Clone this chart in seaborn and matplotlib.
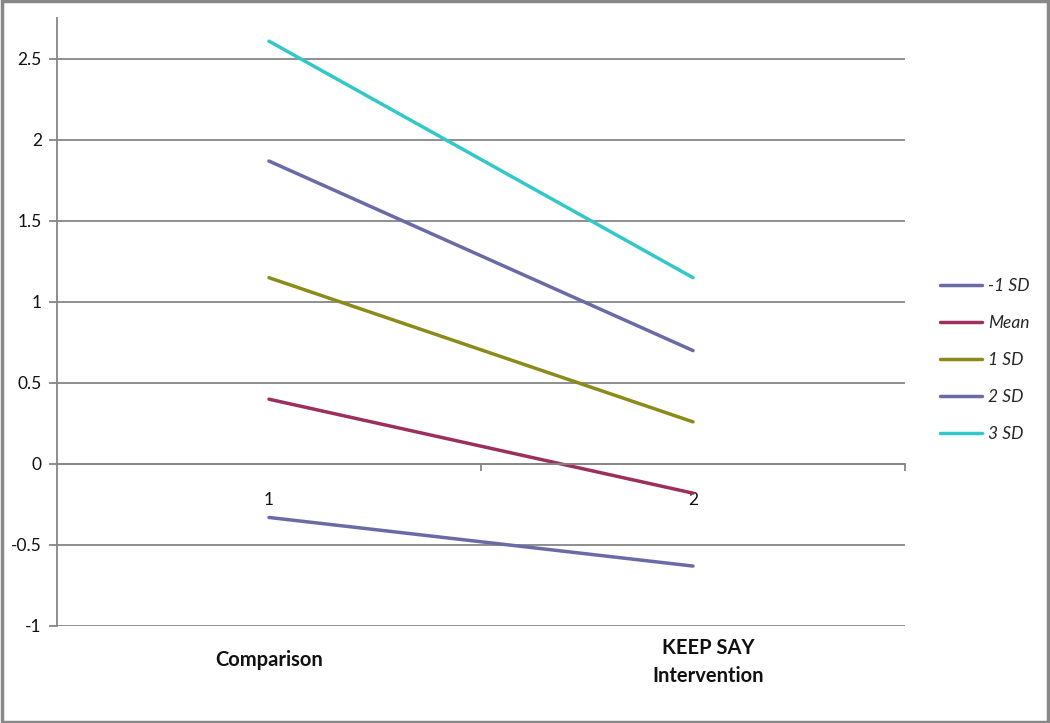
import matplotlib
matplotlib.use("Agg")
import matplotlib.pyplot as plt
import matplotlib.transforms as mtransforms
from matplotlib.patches import Rectangle
import seaborn as sns
import pandas as pd

# ---- data ----
groups = ["1", "2"]
group_names = ["Comparison", "KEEP SAY\nIntervention"]
series = ["-1 SD", "Mean", "1 SD", "2 SD", "3 SD"]
minus1_sd = [-0.33, -0.63]
mean_vals = [0.40, -0.18]
sd1_vals = [1.15, 0.26]
sd2_vals = [1.87, 0.70]
sd3_vals = [2.61, 1.15]
y_ticks = [-1, -0.5, 0, 0.5, 1, 1.5, 2, 2.5]
y_tick_labels = ["-1", "-0.5", "0", "0.5", "1", "1.5", "2", "2.5"]

colors = ["#6A6AA6", "#9B2F5E", "#8B8B1C", "#6A6AA6", "#33C8C8"]

rows = []
for name, vals in zip(series, [minus1_sd, mean_vals, sd1_vals, sd2_vals, sd3_vals]):
    for i, v in enumerate(vals):
        rows.append({"pos": i, "value": v, "series": name})
df = pd.DataFrame(rows)

sns.set_style("white")
plt.rcParams["font.family"] = ["Lato", "DejaVu Sans"]

fig = plt.figure(figsize=(10.5, 7.23), dpi=100)
ax = fig.add_axes([57 / 1050, 1 - 626 / 723, (905 - 57) / 1050, (626 - 18) / 723])

sns.lineplot(data=df, x="pos", y="value", hue="series", hue_order=series,
             palette=colors, linewidth=2.5, ax=ax, legend=True)

ax.set_xlim(-0.5, 1.5)
ax.set_ylim(-1, 2.753)
ax.set_yticks(y_ticks)
ax.set_yticklabels(y_tick_labels, fontsize=12.5, color="#111111")
ax.yaxis.grid(True, color="#868686", linewidth=1.3)
ax.set_axisbelow(True)
ax.tick_params(axis="y", which="major", length=6, width=1.3, color="#868686",
               left=True, direction="out", pad=5)

for s in ["top", "right"]:
    ax.spines[s].set_visible(False)
ax.spines["left"].set_color("#868686")
ax.spines["left"].set_linewidth(1.3)
ax.spines["bottom"].set_position(("data", 0))
ax.spines["bottom"].set_color("#868686")
ax.spines["bottom"].set_linewidth(1.3)

ax.set_xticks([0, 1])
ax.set_xticklabels(groups, fontsize=12.5, color="#111111")
ax.set_xticks([0.5, 1.5], minor=True)
ax.tick_params(axis="x", which="major", length=0, pad=20)
ax.tick_params(axis="x", which="minor", length=5, width=1.3, color="#868686",
               bottom=True, direction="out")
ax.set_xlabel("")
ax.set_ylabel("")

trans = mtransforms.blended_transform_factory(ax.transData, fig.transFigure)
ax.text(0, 1 - 660 / 723, group_names[0], transform=trans, ha="center", va="center",
        fontsize=14.5, fontweight="bold", color="#111111")
ax.text(1.035, 1 - 662 / 723, group_names[1], transform=trans, ha="center", va="center",
        fontsize=14.5, fontweight="bold", color="#111111", linespacing=1.45)

handles, labels = ax.get_legend_handles_labels()
leg = ax.legend(handles, labels, loc="center left",
                bbox_to_anchor=(940 / 1050, 1 - 360 / 723), bbox_transform=fig.transFigure,
                frameon=False, prop={"style": "italic", "size": 12.5},
                handlelength=2.4, labelspacing=1.2, handletextpad=0.35,
                borderpad=0, borderaxespad=0)

fig.patches.append(Rectangle((0.0015, 0.002), 0.997, 0.996, transform=fig.transFigure,
                             fill=False, edgecolor="#888888", linewidth=2.5))

fig.savefig("out.png", dpi=100, facecolor="white")
